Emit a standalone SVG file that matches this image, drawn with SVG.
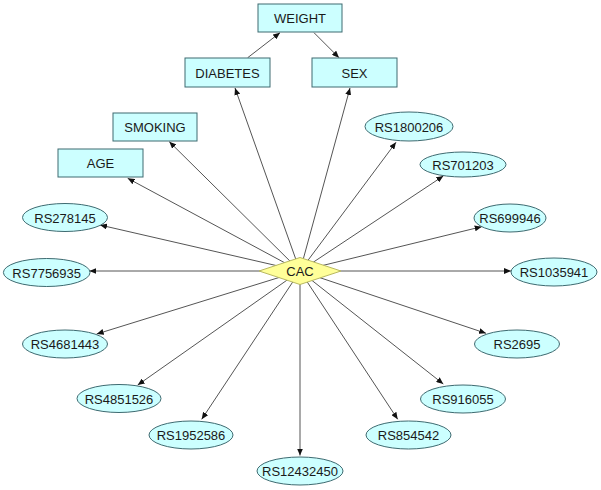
<svg xmlns="http://www.w3.org/2000/svg" width="601" height="490" viewBox="0 0 601 490">
<style>
.n{fill:#ccffff;stroke:#3e6a70;stroke-width:1}
.c{fill:#ffff99;stroke:#b8b860;stroke-width:1}
.e{stroke:#555;stroke-width:1;fill:none;marker-end:url(#a)}
text{font-family:"Liberation Sans",Arial,sans-serif;font-size:13px;fill:#1a1a1a;text-anchor:middle;dominant-baseline:central}
</style>
<defs>
<marker id="a" markerUnits="userSpaceOnUse" markerWidth="8" markerHeight="6" refX="7" refY="3" orient="auto">
<path d="M0,0 L7,3 L0,6 Z" fill="#111"/>
</marker>
</defs>
<rect width="601" height="490" fill="#fff"/>
<g id="edges">
<line class="e" x1="247.7" y1="57.7" x2="280" y2="32.7"/>
<line class="e" x1="314" y1="32.7" x2="339" y2="57.7"/>
<line class="e" x1="300" y1="271" x2="235" y2="88"/>
<line class="e" x1="300" y1="271" x2="350" y2="88"/>
<line class="e" x1="300" y1="271" x2="169.3" y2="141.7"/>
<line class="e" x1="300" y1="271" x2="127.7" y2="178.3"/>
<line class="e" x1="300" y1="271" x2="100" y2="225"/>
<line class="e" x1="300" y1="271" x2="89.3" y2="271"/>
<line class="e" x1="300" y1="271" x2="96.7" y2="334"/>
<line class="e" x1="300" y1="271" x2="137.7" y2="385"/>
<line class="e" x1="300" y1="271" x2="201.7" y2="419.3"/>
<line class="e" x1="300" y1="271" x2="300" y2="455.5"/>
<line class="e" x1="300" y1="271" x2="397.7" y2="419.3"/>
<line class="e" x1="300" y1="271" x2="443.3" y2="384"/>
<line class="e" x1="300" y1="271" x2="486" y2="333.3"/>
<line class="e" x1="300" y1="271" x2="511" y2="271"/>
<line class="e" x1="300" y1="271" x2="481.7" y2="226.7"/>
<line class="e" x1="300" y1="271" x2="443.3" y2="176"/>
<line class="e" x1="300" y1="271" x2="396" y2="142.3"/>
</g>
<g id="WEIGHT"><rect class="n" x="258" y="4" width="84" height="28"/><text x="300" y="18.5">WEIGHT</text></g>
<g id="DIABETES"><rect class="n" x="185" y="58" width="85" height="29"/><text x="227.5" y="73">DIABETES</text></g>
<g id="SEX"><rect class="n" x="312" y="58" width="85" height="29"/><text x="354.5" y="73">SEX</text></g>
<g id="SMOKING"><rect class="n" x="113" y="113" width="84" height="28"/><text x="155" y="127.5">SMOKING</text></g>
<g id="AGE"><rect class="n" x="58" y="149" width="85" height="28"/><text x="100.5" y="163.5">AGE</text></g>
<g id="RS278145"><ellipse class="n" cx="65" cy="217.5" rx="42.5" ry="14"/><text x="65" y="218">RS278145</text></g>
<g id="RS7756935"><ellipse class="n" cx="46.7" cy="272.5" rx="43.3" ry="14"/><text x="46.7" y="273">RS7756935</text></g>
<g id="RS4681443"><ellipse class="n" cx="65" cy="344" rx="42.5" ry="14"/><text x="65" y="344.5">RS4681443</text></g>
<g id="RS4851526"><ellipse class="n" cx="119" cy="398.5" rx="42" ry="14"/><text x="119" y="399">RS4851526</text></g>
<g id="RS1952586"><ellipse class="n" cx="191" cy="435" rx="42" ry="14"/><text x="191" y="435.5">RS1952586</text></g>
<g id="RS12432450"><ellipse class="n" cx="300" cy="471" rx="43" ry="14"/><text x="300" y="471.5">RS12432450</text></g>
<g id="RS854542"><ellipse class="n" cx="408.5" cy="435" rx="42.5" ry="14"/><text x="408.5" y="435.5">RS854542</text></g>
<g id="RS916055"><ellipse class="n" cx="463" cy="399" rx="42.5" ry="14"/><text x="463" y="399.5">RS916055</text></g>
<g id="RS2695"><ellipse class="n" cx="517" cy="344" rx="42.5" ry="14"/><text x="517" y="344.5">RS2695</text></g>
<g id="RS1035941"><ellipse class="n" cx="554" cy="272" rx="43" ry="14"/><text x="554" y="272.5">RS1035941</text></g>
<g id="RS699946"><ellipse class="n" cx="510" cy="218" rx="36" ry="14"/><text x="510" y="218.5">RS699946</text></g>
<g id="RS701203"><ellipse class="n" cx="463" cy="164.5" rx="43" ry="12.5"/><text x="463" y="165">RS701203</text></g>
<g id="RS1800206"><ellipse class="n" cx="409" cy="126.5" rx="44" ry="14.5"/><text x="409" y="127">RS1800206</text></g>
<g id="CAC"><polygon class="c" points="259,271 300,257.5 341,271 300,284.5"/><text x="300" y="271.5">CAC</text></g>
</svg>
